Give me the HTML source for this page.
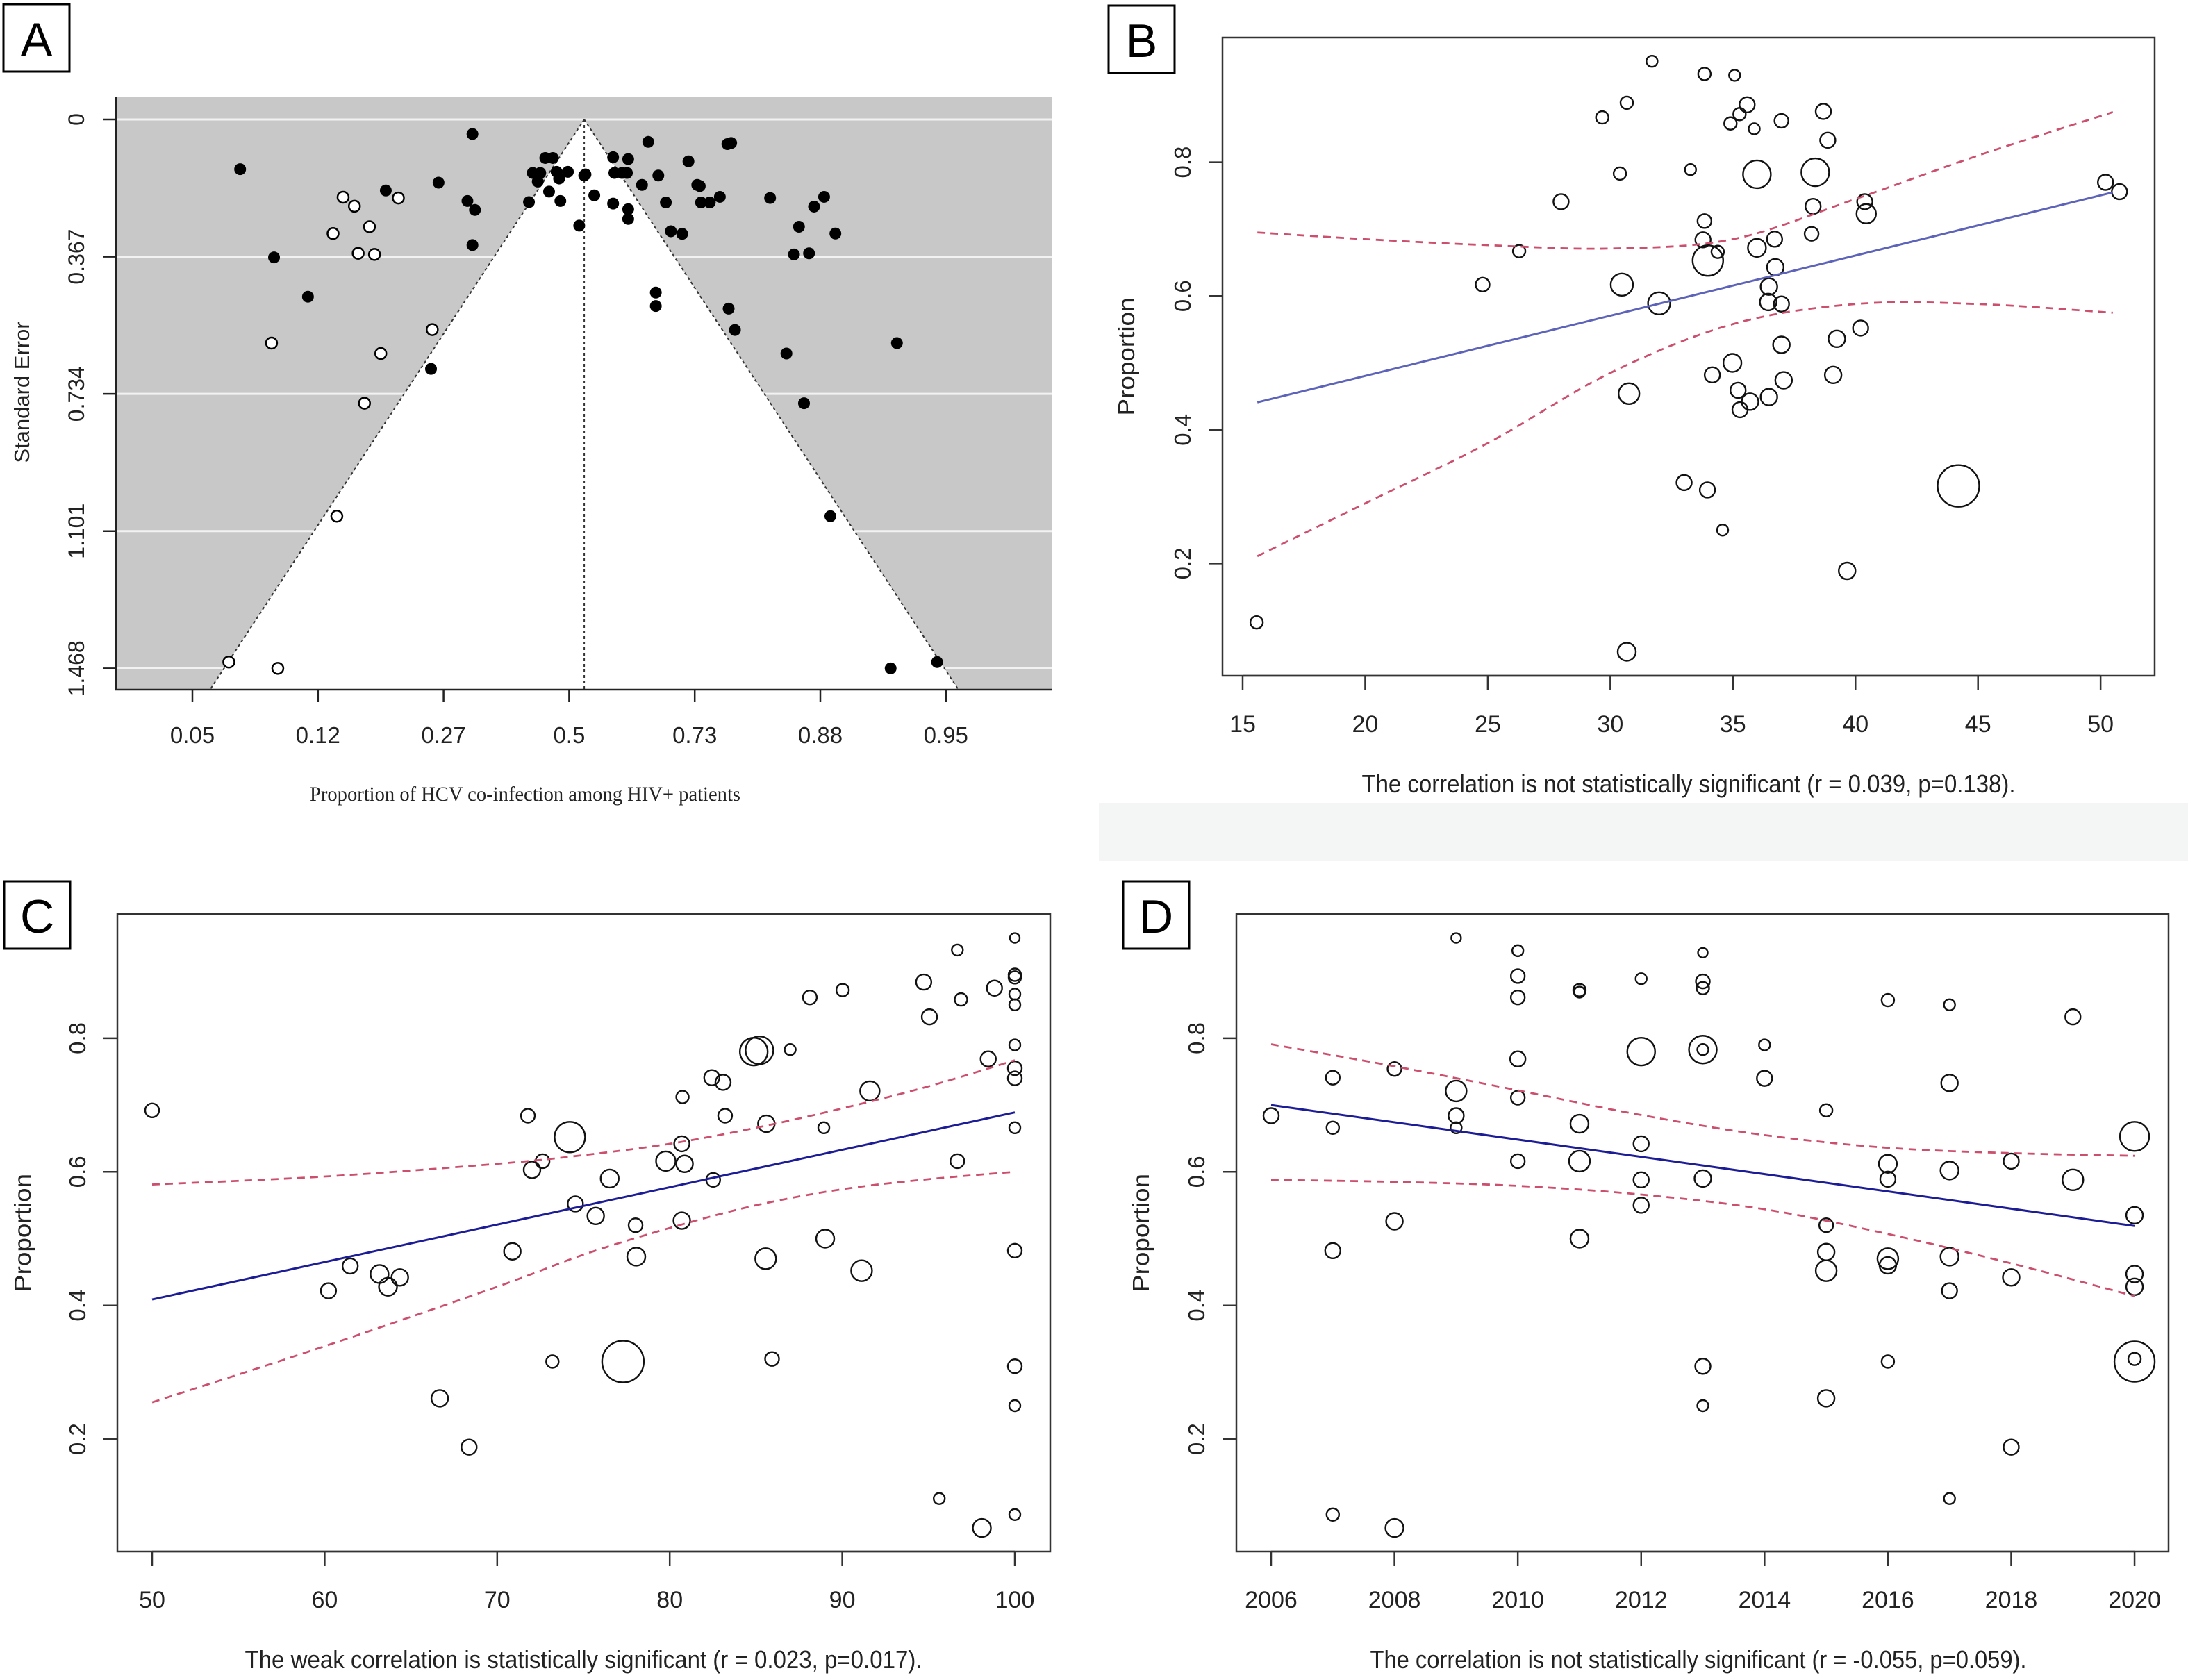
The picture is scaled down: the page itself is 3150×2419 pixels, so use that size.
<!DOCTYPE html>
<html><head><meta charset="utf-8"><style>
html,body{margin:0;padding:0;background:#fff;}
svg{display:block;font-family:"Liberation Sans",Arial,sans-serif;}
</style></head><body>
<svg id="fig" xmlns="http://www.w3.org/2000/svg" width="3150" height="2419" viewBox="0 0 3150 2419">
<rect x="0" y="0" width="3150" height="2419" fill="#fff"/>
<rect x="1582" y="1156" width="1568" height="84" fill="#f3f6f5"/>
<g id="pA"></g>
<g id="pB"></g>
<g id="pC"></g>
<g id="pD"></g>
</svg>
<script>
// ---------- Panel A data ----------
const aTickLabels=["0.05","0.12","0.27","0.5","0.73","0.88","0.95"];
const aSeTicks=[0,0.367,0.734,1.101,1.468];
const aSeTickLabels=["0","0.367","0.734","1.101","1.468"];
const aCenter=3.12;
const aFilledU=[0.38,2.23,0.65,0.92,1.54,1.96,2.19,2.25,2.23,1.90,2.68,2.71,2.77,2.75,2.81,2.87,2.90,2.84,2.92,2.93,2.99,3.12,3.13,3.08,3.20,3.35,3.36,3.42,3.46,3.47,3.35,3.47,3.47,3.63,3.71,3.58,3.77,3.81,3.90,3.95,4.02,4.04,4.05,4.12,4.20,4.26,4.29,3.69,3.69,4.27,4.32,4.60,4.83,4.79,4.91,4.95,5.03,5.12,4.73,4.87,5.08,5.61,5.56,5.93];
const aFilledSE=[0.133,0.039,0.369,0.474,0.190,0.169,0.218,0.242,0.336,0.667,0.221,0.143,0.143,0.166,0.103,0.103,0.140,0.193,0.158,0.218,0.140,0.150,0.147,0.284,0.203,0.101,0.143,0.143,0.143,0.106,0.225,0.240,0.266,0.060,0.150,0.175,0.222,0.299,0.306,0.112,0.175,0.178,0.222,0.222,0.207,0.066,0.063,0.463,0.499,0.506,0.563,0.210,0.287,0.361,0.358,0.233,0.207,0.305,0.626,0.759,1.061,0.598,1.468,1.451];
const aOpenU=[1.20,1.29,1.64,1.41,1.12,1.32,1.45,0.63,1.91,1.50,1.37,1.15,0.29,0.68];
const aOpenSE=[0.208,0.232,0.210,0.287,0.305,0.358,0.361,0.598,0.562,0.626,0.759,1.061,1.451,1.468];

// ---------- Panel B data ----------
const bXTicks=[15,20,25,30,35,40,45,50];
const yTicks=[0.2,0.4,0.6,0.8];
const bX=[15.57,24.79,26.28,27.99,29.67,30.67,30.39,30.47,30.76,30.67,31.70,31.99,33.27,33.01,33.84,33.84,33.78,33.98,34.38,33.96,34.16,34.58,34.90,35.07,35.27,35.58,35.87,35.98,35.98,34.98,35.21,35.29,35.70,36.47,36.98,36.70,36.73,36.47,36.44,36.98,36.98,37.07,38.36,38.69,38.87,38.27,38.21,39.09,39.24,39.66,40.21,40.38,40.44,44.20,50.20,50.77];
const bY=[0.112,0.617,0.667,0.741,0.867,0.889,0.783,0.617,0.454,0.068,0.951,0.589,0.789,0.321,0.932,0.712,0.684,0.653,0.666,0.310,0.482,0.250,0.858,0.930,0.872,0.886,0.850,0.782,0.672,0.500,0.459,0.430,0.442,0.449,0.862,0.685,0.643,0.614,0.591,0.588,0.527,0.474,0.785,0.876,0.833,0.734,0.693,0.482,0.536,0.189,0.552,0.741,0.723,0.316,0.770,0.756];
const bWeight=[9,10,9,11,9,9,9,16,15,13,8,16,8,11,9,10,11,22,9,11,11,8,9,8,9,11,8,20,13,13,11,11,12,12,10,11,12,12,12,11,12,12,20,11,11,11,10,12,12,12,11,11,14,30,11,11];
const bFitX=[15.6,50.5];
const bFitY=[0.441,0.755];
const bCiX=[15.6,20,25,30,35,40,45,50.5];
const bCiUpper=[0.695,0.685,0.676,0.671,0.685,0.745,0.810,0.875];
const bCiLower=[0.211,0.290,0.380,0.485,0.558,0.588,0.588,0.575];

// ---------- Panel C data ----------
const cXTicks=[50,60,70,80,90,100];
const cX=[50.0,60.22,61.48,63.18,63.67,64.36,66.67,68.37,70.88,71.78,72.02,72.63,73.20,74.21,74.53,75.71,76.52,77.29,78.02,78.06,79.77,80.74,80.70,80.86,80.70,82.44,82.52,83.09,83.21,84.87,85.20,85.60,85.56,85.93,86.98,88.12,88.93,89.01,90.02,91.12,91.60,94.72,95.05,95.62,96.67,96.88,96.67,98.09,98.46,98.82,100,100,100,100,100,100,100,100,100,100,100,100,100];
const cY=[0.692,0.422,0.459,0.447,0.428,0.442,0.261,0.188,0.481,0.684,0.603,0.616,0.316,0.652,0.552,0.534,0.590,0.316,0.520,0.473,0.616,0.712,0.642,0.612,0.527,0.741,0.588,0.734,0.684,0.780,0.782,0.672,0.470,0.320,0.783,0.861,0.666,0.500,0.872,0.452,0.721,0.884,0.832,0.111,0.932,0.858,0.616,0.067,0.769,0.875,0.950,0.895,0.891,0.866,0.850,0.790,0.755,0.740,0.666,0.482,0.309,0.250,0.087];
const cWeight=[10,11,11,13,13,12,12,11,12,10,12,10,9,22,11,12,13,30,10,13,14,9,11,12,12,11,10,11,10,20,20,12,15,10,8,10,8,13,9,15,14,11,11,8,8,9,10,13,11,11,7,9,9,8,8,8,10,10,8,10,10,8,8];
const cFitX=[50,100];
const cFitY=[0.409,0.689];
const cCiX=[50,60,70,75,80,85,90,95,100];
const cCiUpper=[0.581,0.593,0.612,0.625,0.642,0.666,0.695,0.728,0.767];
const cCiLower=[0.255,0.339,0.428,0.476,0.516,0.550,0.574,0.589,0.600];

// ---------- Panel D data ----------
const dXTicks=[2006,2008,2010,2012,2014,2016,2018,2020];
const dX=[2006,2007,2007,2007,2007,2008,2008,2008,2009,2009,2009,2009,2010,2010,2010,2010,2010,2010,2011,2011,2011,2011,2011,2012,2012,2012,2012,2012,2013,2013,2013,2013,2013,2013,2013,2013,2014,2014,2015,2015,2015,2015,2015,2016,2016,2016,2016,2016,2016,2017,2017,2017,2017,2017,2017,2018,2018,2018,2019,2019,2020,2020,2020,2020,2020,2020];
const dY=[0.684,0.741,0.666,0.482,0.087,0.754,0.526,0.067,0.950,0.721,0.684,0.666,0.931,0.893,0.861,0.769,0.711,0.616,0.872,0.869,0.672,0.616,0.500,0.889,0.780,0.642,0.588,0.550,0.928,0.885,0.875,0.783,0.783,0.590,0.309,0.250,0.790,0.740,0.692,0.520,0.480,0.452,0.261,0.857,0.612,0.589,0.470,0.460,0.316,0.850,0.733,0.602,0.473,0.422,0.111,0.616,0.442,0.188,0.832,0.588,0.653,0.535,0.447,0.428,0.316,0.320];
const dWeight=[11,10,9,11,9,10,12,13,7,15,11,8,8,10,10,11,10,10,9,8,13,15,13,8,20,11,11,11,7,10,9,20,8,12,11,8,8,11,9,10,12,15,12,9,13,11,15,12,9,8,12,13,13,11,8,11,12,11,11,15,21,12,12,12,29,9];
const dFitX=[2006,2020];
const dFitY=[0.700,0.519];
const dCiX=[2006,2008,2010,2012,2014,2016,2018,2020];
const dCiUpper=[0.791,0.758,0.722,0.685,0.655,0.636,0.628,0.624];
const dCiLower=[0.588,0.585,0.579,0.566,0.544,0.507,0.463,0.414];

// ---------- helpers ----------
const NS="http://www.w3.org/2000/svg";
function mk(tag,attrs,parent){const e=document.createElementNS(NS,tag);for(const k in attrs)e.setAttribute(k,attrs[k]);parent.appendChild(e);return e;}
function txt(str,attrs,parent){const e=mk('text',attrs,parent);e.textContent=str;return e;}
const rScale=w=>w;
function smoothPath(pts){
  let d=`M${pts[0][0]},${pts[0][1]}`;
  for(let i=0;i<pts.length-1;i++){
    const p0=pts[Math.max(0,i-1)],p1=pts[i],p2=pts[i+1],p3=pts[Math.min(pts.length-1,i+2)];
    const c1=[p1[0]+(p2[0]-p0[0])/6,p1[1]+(p2[1]-p0[1])/6];
    const c2=[p2[0]-(p3[0]-p1[0])/6,p2[1]-(p3[1]-p1[1])/6];
    d+=` C${c1[0]},${c1[1]} ${c2[0]},${c2[1]} ${p2[0]},${p2[1]}`;
  }
  return d;
}

// ---------- Panel A ----------
(function(){
  const g=document.getElementById('pA');
  const ax=u=>277+u*180.8, ay=s=>172+s*538.4;
  const L=167,R=1514,T=139,B=993;
  const bg=mk('rect',{x:L,y:T,width:R-L,height:B-T,fill:'#c8c8c8'},g);
  
  
  aSeTicks.forEach((s,i)=>{
    const l=mk('line',{x1:L,x2:R,y1:ay(s),y2:ay(s),stroke:'#f2f2f2','stroke-width':3},g);
    
    
  });
  const seB=(B-172)/538.4, k=1.954;
  const tri=mk('polygon',{points:`${ax(aCenter)},${ay(0)} ${ax(aCenter-k*seB)},${B} ${ax(aCenter+k*seB)},${B}`,fill:'#fff'},g);
  
  
  [[-1],[1]].forEach(([sg])=>{
    const l=mk('line',{x1:ax(aCenter),y1:ay(0),x2:ax(aCenter+sg*k*seB),y2:B,stroke:'#333','stroke-width':2,'stroke-dasharray':'4 4'},g);
    
    
  });
  const vl=mk('line',{x1:ax(aCenter),y1:ay(0),x2:ax(aCenter),y2:B,stroke:'#333','stroke-width':2,'stroke-dasharray':'4 4'},g);
  
  
  aFilledU.forEach((u,i)=>{
    const c=mk('circle',{cx:ax(u),cy:ay(aFilledSE[i]),r:8.5,fill:'#000'},g);
    
    
  });
  aOpenU.forEach((u,i)=>{
    const c=mk('circle',{cx:ax(u),cy:ay(aOpenSE[i]),r:8,fill:'#fff',stroke:'#000','stroke-width':2.5},g);
    
    
  });
  const axl=mk('path',{d:`M${L},${T}V${B}H${R}`,fill:'none',stroke:'#222','stroke-width':2.5},g);
  
  
  aTickLabels.forEach((t,i)=>{
    const tk=mk('line',{x1:ax(i),x2:ax(i),y1:B,y2:B+18,stroke:'#222','stroke-width':2.5},g);
    
    
    const tl=txt(t,{x:ax(i),y:1070,'font-size':33,'text-anchor':'middle',fill:'#222'},g);
    
    
  });
  aSeTicks.forEach((s,i)=>{
    const tk=mk('line',{x1:L-18,x2:L,y1:ay(s),y2:ay(s),stroke:'#222','stroke-width':2.5},g);
    
    
    const tl=txt(aSeTickLabels[i],{x:0,y:0,'font-size':32,'text-anchor':'middle',fill:'#222',transform:`translate(121,${ay(s)}) rotate(-90)`},g);
    
    
  });
  const yt=txt('Standard Error',{x:0,y:0,'font-size':31,'text-anchor':'middle',fill:'#222',transform:'translate(42,565) rotate(-90)'},g);
  
  
  const xt=txt('Proportion of HCV co-infection among HIV+ patients',{x:756,y:1153,'font-size':30,'text-anchor':'middle',fill:'#222','font-family':'"Liberation Serif",serif',textLength:620,lengthAdjust:'spacingAndGlyphs'},g);
  
  
})();

// ---------- Generic bubble panel ----------
function bubblePanel(gid,box,sx,sy,xTicks,xs,ys,ws,fitX,fitY,ciX,ciU,ciL,fitColor,yLabX,yTitleX,caption,capX,capLen,tickLen){
  const g=document.getElementById(gid);
  const [L,T,R,B]=box;
  const fr=mk('rect',{x:L,y:T,width:R-L,height:B-T,fill:'none',stroke:'#333','stroke-width':2.5},g);
  
  
  xs.forEach((v,i)=>{
    const c=mk('circle',{cx:sx(v),cy:sy(ys[i]),r:rScale(ws[i]),fill:'none',stroke:'#111','stroke-width':2.4},g);
    
    
  });
  const fl=mk('line',{x1:sx(fitX[0]),y1:sy(fitY[0]),x2:sx(fitX[1]),y2:sy(fitY[1]),stroke:fitColor,'stroke-width':3},g);
  
  
  [ciU,ciL].forEach((arr,j)=>{
    const p=mk('path',{d:smoothPath(ciX.map((x,i)=>[sx(x),sy(arr[i])])),fill:'none',stroke:'#cc4f6e','stroke-width':2.8,'stroke-dasharray':'11 8'},g);
    
    
  });
  const xa=mk('line',{x1:sx(xTicks[0]),x2:sx(xTicks[xTicks.length-1]),y1:B,y2:B,stroke:'#333','stroke-width':2.5},g);
  
  
  xTicks.forEach(t=>{
    const tk=mk('line',{x1:sx(t),x2:sx(t),y1:B,y2:B+tickLen,stroke:'#333','stroke-width':2.5},g);
    
    
    const tl=txt(String(t),{x:sx(t),y:B+81,'font-size':34,'text-anchor':'middle',fill:'#222'},g);
    
    
  });
  yTicks.forEach(t=>{
    const tk=mk('line',{x1:L-20,x2:L,y1:sy(t),y2:sy(t),stroke:'#333','stroke-width':2.5},g);
    
    
    const tl=txt(t.toFixed(1),{x:0,y:0,'font-size':33,'text-anchor':'middle',fill:'#222',transform:`translate(${yLabX},${sy(t)}) rotate(-90)`},g);
    
    
  });
  const yt=txt('Proportion',{x:0,y:0,'font-size':33,'text-anchor':'middle',fill:'#222',textLength:170,lengthAdjust:'spacingAndGlyphs',transform:`translate(${yTitleX},${(T+B)/2}) rotate(-90)`},g);
  
  
  const cp=txt(caption,{x:capX,y:B+168,'font-size':36,'text-anchor':'middle',fill:'#222',textLength:capLen,lengthAdjust:'spacingAndGlyphs'},g);
  
  
}
const yScaleCD=v=>2264.5-v*962;
bubblePanel('pB',[1760,54,3102,973],v=>1789+(v-15)*35.29,v=>1004-v*963,bXTicks,bX,bY,bWeight,bFitX,bFitY,bCiX,bCiUpper,bCiLower,'#5c63b8',1714,1633,'The correlation is not statistically significant (r = 0.039, p=0.138).',2431,941,20);
bubblePanel('pC',[169,1316,1512,2234],v=>219+(v-50)*24.84,yScaleCD,cXTicks,cX,cY,cWeight,cFitX,cFitY,cCiX,cCiUpper,cCiLower,'#1c1c96',123,44,'The weak correlation is statistically significant (r = 0.023, p=0.017).',840,975,21);
bubblePanel('pD',[1780,1316,3122,2234],v=>1830+(v-2006)*88.79,yScaleCD,dXTicks,dX,dY,dWeight,dFitX,dFitY,dCiX,dCiUpper,dCiLower,'#1c1c96',1734,1654,'The correlation is not statistically significant (r = -0.055, p=0.059).',2445,945,21);

// ---------- Panel letters ----------
[['A',5,6],['B',1596,8],['C',6,1269],['D',1617,1269]].forEach(([l,x,y])=>{
  const svg=document.getElementById('fig');
  const r=mk('rect',{x:x,y:y,width:95,height:97,fill:'#fff',stroke:'#000','stroke-width':3},svg);
  
  
  const t=txt(l,{x:x+47.5,y:y+74,'font-size':68,'text-anchor':'middle',fill:'#000'},svg);
  
  
});
</script>
</body></html>
